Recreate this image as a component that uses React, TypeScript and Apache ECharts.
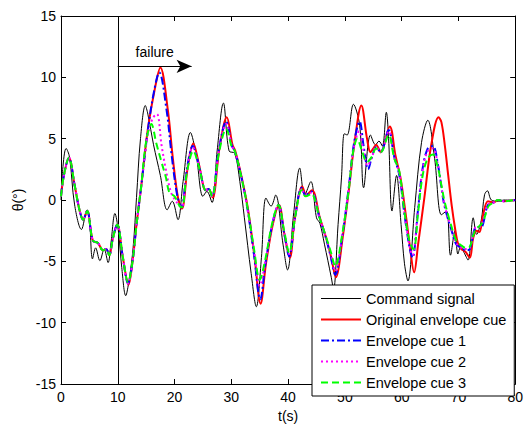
import React, { useEffect, useRef } from "react";
import * as echarts from "echarts";

const xTicks = { min: 0, max: 80, interval: 10 };
const yTicks = { min: -15, max: 15, interval: 5 };
const seriesNames = ["Command signal", "Original envelope cue", "Envelope cue 1", "Envelope cue 2", "Envelope cue 3"];
const failureTime = 10;
const failureArrowEnd = 23;
const failureArrowLevel = 10.9;

const commandSignal = [
  [0, 0], [0.3, 2.5], [0.9, 4.2], [1.5, 3.5], [2.4, -0.4], [3.6, -2.4], [4.6, -0.8], [5.0, -1.5], [5.55, -4.8],
  [6.1, -3.9], [6.85, -4.95], [7.6, -4.0], [8.3, -5.1], [8.8, -3.5], [9.5, -1.1], [10.1, -2.5], [10.7, -5.5],
  [11.4, -7.8], [12.0, -6.5], [12.7, -3.9], [13.3, 0.2], [14.0, 5.0], [14.85, 7.7], [15.3, 7.0], [16.3, 4.5],
  [17.5, 2.0], [18.7, -0.8], [19.6, -0.1], [20.6, -1.6], [21.5, 1.5], [22.8, 5.5], [23.8, 3.7], [25.0, 0.3],
  [25.7, 0.7], [26.6, -0.2], [27.5, 4.0], [28.6, 7.9], [29.6, 4.0], [30.6, 3.8], [31.5, 1.5], [32.3, -1.45],
  [33.5, -6.0], [34.4, -8.7], [35.3, -4.7], [36.1, 0.16], [37.0, -0.5], [37.8, 0.4], [39.1, -3.6], [39.9, -5.7],
  [41.0, -1.0], [42.05, 2.6], [42.9, 0.4], [44.0, 1.5], [45.0, -1.45], [45.6, -1.9], [46.4, -3.6], [47.6, -6.3],
  [48.0, -7.3], [48.8, -2.0], [49.4, 1.8], [49.9, 5.4], [50.4, 5.3], [51.5, 7.8], [52.6, 6.1], [53.3, 1.0],
  [54.5, 5.3], [55.4, 4.5], [56.0, 4.8], [56.6, 4.4], [57.3, 7.15], [57.7, 5.0], [58.3, -0.9], [59.1, 2.0],
  [59.9, -2.0], [60.5, -5.2], [61.1, -6.6], [62.3, -0.6], [63.5, 4.7], [64.6, 6.5], [65.8, 3.4], [67.0, -1.2],
  [67.9, -0.9], [68.6, -4.5], [69.4, -2.5], [69.9, -4.4], [70.4, -3.8], [71.0, -4.3], [71.7, -4.9], [72.6, -1.45],
  [73.2, -2.8], [74.0, -1.7], [74.6, 0.43], [75.1, 0.75], [75.8, 0.0], [77, -0.1], [78, 0], [80, -0.05],
];

const originalCue = [
  [0, 0.3], [0.5, 2.0], [1.4, 3.45], [2.4, 1.2], [3.3, -0.9], [3.9, -1.6], [4.6, -0.9], [5.6, -3.3], [6.5, -3.5],
  [7.4, -4.1], [7.95, -4.0], [8.5, -4.5], [9.1, -3.2], [9.9, -2.0], [10.9, -4.7], [11.9, -6.9], [12.6, -5.0],
  [13.3, -2.0], [14.1, 1.0], [15.3, 5.8], [16.5, 9.0], [17.5, 10.8], [18.8, 7.4], [19.7, 3.4], [20.6, 0.2],
  [21.3, -0.7], [22.3, 2.6], [23.3, 4.6], [24.3, 2.9], [25.5, 0.8], [26.0, 0.9], [26.7, 0.2], [27.9, 4.2],
  [29.2, 6.75], [30.2, 4.5], [30.7, 4.0], [31.75, 2.0], [32.9, -0.65], [34.1, -4.7], [35.15, -8.45], [36.1, -5.2],
  [37.3, -2.0], [38.4, -0.4], [39.35, -2.8], [40.3, -4.7], [41.2, -1.45], [42.5, 1.1], [43.2, 0.4], [44.2, 0.8],
  [45.6, -1.45], [46.7, -3.1], [47.6, -4.7], [48.4, -6.3], [49.6, -3.1], [50.8, 1.2], [51.7, 4.7], [52.9, 7.7],
  [53.9, 5.0], [54.5, 3.9], [55.0, 4.2], [55.5, 4.5], [56.3, 3.9], [57.9, 6.0], [58.9, 3.65], [59.8, 1.8],
  [60.8, -1.45], [61.4, -3.6], [62.2, -5.9], [62.9, -3.6], [64.0, 0.2], [65.2, 4.46], [66.5, 6.75], [67.0, 6.35],
  [67.6, 4.46], [68.2, 2.0], [68.8, -0.4], [69.4, -2.3], [69.95, -3.6], [70.5, -4.0], [71.2, -4.2], [72.0, -4.7],
  [72.6, -3.1], [73.2, -2.5], [73.7, -2.6], [74.3, -1.3], [75.2, -0.1], [76.2, -0.2], [77, 0], [78, -0.1], [80, 0],
];

const envelopeCue1 = [
  [0, 0.3], [0.5, 2.0], [1.4, 3.45], [2.4, 1.2], [3.3, -0.9], [3.9, -1.6], [4.6, -0.9], [5.6, -3.3], [6.5, -3.5],
  [7.4, -4.1], [7.95, -4.0], [8.5, -4.5], [9.1, -3.2], [9.9, -2.0], [10.9, -4.7], [11.8, -6.8], [12.6, -5.0],
  [13.3, -2.0], [14.1, 1.0], [15.3, 5.7], [16.4, 8.9], [17.3, 10.4], [18.6, 7.3], [19.5, 3.6], [20.5, 0.3],
  [21.2, -0.6], [22.2, 2.6], [23.2, 4.4], [24.3, 2.8], [25.5, 0.8], [26.0, 0.9], [26.6, 0.3], [27.8, 4.1],
  [29.1, 6.4], [30.1, 4.4], [30.6, 4.0], [31.7, 2.0], [32.8, -0.6], [34.0, -4.5], [35.1, -8.1], [36.0, -5.2],
  [37.2, -2.0], [38.3, -0.4], [39.3, -2.7], [40.2, -4.6], [41.2, -1.5], [42.4, 1.0], [43.1, 0.4], [44.1, 0.7],
  [45.5, -1.4], [46.6, -3.0], [47.5, -4.6], [48.3, -6.1], [49.5, -3.1], [50.7, 1.1], [51.6, 4.6], [52.6, 6.4],
  [53.3, 4.4], [54.1, 2.5], [54.7, 3.4], [55.5, 4.3], [56.3, 3.9], [57.7, 5.7], [58.7, 3.5], [59.6, 2.0],
  [60.5, -1.2], [61.4, -3.9], [61.9, -4.7], [62.9, -0.7], [63.7, 2.6], [64.6, 4.2], [65.5, 4.4], [66.4, 2.85],
  [67.1, 0.7], [67.6, -0.6], [68.8, -2.5], [69.6, -3.6], [70.5, -3.9], [71.3, -4.1], [72.0, -4.0], [72.9, -2.3],
  [73.5, -2.2], [74.0, -2.2], [75.2, -0.4], [76.2, -0.2], [77, 0], [78, -0.1], [80, 0],
];

const envelopeCue2 = [
  [0, 0.3], [0.5, 2.0], [1.4, 3.45], [2.4, 1.2], [3.3, -0.9], [3.9, -1.6], [4.6, -0.9], [5.6, -3.3], [6.5, -3.5],
  [7.4, -4.1], [7.95, -4.0], [8.5, -4.5], [9.1, -3.2], [9.9, -2.0], [10.9, -4.7], [11.8, -6.8], [12.6, -5.0],
  [13.3, -2.0], [14.1, 1.0], [15.3, 5.4], [16.2, 6.7], [16.9, 7.0], [17.7, 4.5], [18.5, 2.4], [19.4, 0.6],
  [20.4, -0.2], [21.2, -0.6], [22.2, 2.5], [23.2, 4.3], [24.3, 2.8], [25.5, 0.8], [26.0, 0.9], [26.6, 0.3],
  [27.8, 4.0], [29.1, 6.2], [30.1, 4.4], [30.6, 4.0], [31.7, 2.0], [32.8, -0.6], [34.0, -4.2], [35.0, -7.0],
  [36.0, -5.0], [37.2, -2.0], [38.3, -0.4], [39.3, -2.6], [40.2, -4.4], [41.2, -1.5], [42.4, 0.9], [43.1, 0.4],
  [44.1, 0.6], [45.5, -1.4], [46.6, -3.0], [47.5, -4.4], [48.3, -5.8], [49.5, -3.0], [50.7, 1.0], [51.6, 4.3],
  [52.5, 5.6], [53.3, 4.0], [54.0, 2.8], [54.7, 3.4], [55.5, 4.3], [56.3, 3.9], [57.7, 5.6], [58.7, 3.5],
  [59.6, 2.1], [60.5, -1.1], [61.4, -3.8], [61.9, -4.5], [62.9, -0.7], [63.7, 2.5], [64.6, 4.0], [65.5, 4.2],
  [66.4, 2.8], [67.1, 0.8], [67.6, -0.5], [68.8, -2.4], [69.6, -3.5], [70.5, -3.9], [71.3, -4.0], [72.0, -3.9],
  [72.9, -2.3], [73.5, -2.2], [74.0, -2.1], [75.2, -0.4], [76.2, -0.2], [77, 0], [78, -0.1], [80, 0],
];

const envelopeCue3 = [
  [0, 0.3], [0.5, 2.0], [1.4, 3.45], [2.4, 1.2], [3.3, -0.9], [3.9, -1.6], [4.6, -0.9], [5.6, -3.3], [6.5, -3.5],
  [7.4, -4.1], [7.95, -4.0], [8.5, -4.5], [9.1, -3.2], [9.9, -2.0], [10.9, -4.7], [11.8, -6.7], [12.6, -5.0],
  [13.3, -2.0], [14.1, 1.0], [15.0, 4.8], [15.9, 6.2], [16.8, 4.6], [17.7, 3.1], [18.5, 1.8], [19.1, 0.6],
  [20.0, 0.3], [20.9, -0.5], [21.3, -0.6], [22.2, 2.3], [23.3, 4.0], [24.3, 2.7], [25.5, 0.8], [26.0, 0.9],
  [26.6, 0.3], [27.8, 3.8], [29.1, 5.8], [30.1, 4.3], [30.6, 4.0], [31.7, 2.0], [32.8, -0.5], [34.0, -4.0],
  [35.0, -6.5], [36.0, -4.8], [37.2, -1.9], [38.3, -0.4], [39.3, -2.5], [40.2, -4.3], [41.2, -1.5], [42.4, 0.8],
  [43.1, 0.3], [44.1, 0.5], [45.5, -1.4], [46.6, -2.9], [47.5, -4.2], [48.3, -5.4], [49.5, -2.9], [50.7, 0.9],
  [51.4, 3.8], [52.2, 5.0], [53.0, 4.0], [53.9, 3.1], [54.7, 3.5], [55.5, 4.2], [56.3, 3.9], [57.7, 5.3],
  [58.7, 3.4], [59.6, 2.3], [60.5, -1.0], [61.4, -3.4], [62.1, -4.0], [62.9, -1.0], [63.7, 2.0], [64.6, 3.4],
  [65.5, 3.7], [66.4, 2.6], [67.0, 1.2], [67.6, -0.2], [68.8, -2.2], [69.6, -3.3], [70.5, -3.7], [71.3, -3.9],
  [72.0, -3.8], [72.9, -2.5], [73.5, -2.2], [74.3, -1.8], [75.3, -0.5], [76.2, -0.2], [77, 0], [78, -0.1], [80, 0],
];

const FONT = "'Liberation Sans', Arial, sans-serif";

export default function App() {
  const ref = useRef<HTMLDivElement>(null);
  useEffect(() => {
    if (!ref.current) return;
    const chart = echarts.init(ref.current, null, { renderer: "svg" });
    const axisCommon = {
      axisLine: { show: true, onZero: false, lineStyle: { color: "#000", width: 1 } },
      axisTick: { show: true, inside: true, length: 5, lineStyle: { color: "#000" } },
      splitLine: { show: false },
    };
    const lineSeries = (name: string, data: number[][], color: string, width: number, type: any, z: number) => ({
      name,
      type: "line",
      data,
      smooth: 0.35,
      showSymbol: false,
      symbol: "none",
      lineStyle: { color, width, type },
      itemStyle: { color },
      z,
    });
    const command: any = lineSeries(seriesNames[0], commandSignal, "#000000", 1, "solid", 2);
    command.markLine = {
      silent: true,
      animation: false,
      lineStyle: { color: "#000", width: 1, type: "solid" },
      label: { show: false },
      data: [
        [
          { coord: [failureTime, yTicks.min], symbol: "none" },
          { coord: [failureTime, yTicks.max], symbol: "none" },
        ],
        [
          {
            coord: [failureTime, failureArrowLevel],
            symbol: "none",
            label: {
              show: true,
              position: "middle",
              formatter: "failure",
              color: "#000",
              fontFamily: FONT,
              fontSize: 14,
              distance: 7,
            },
          },
          { coord: [failureArrowEnd, failureArrowLevel], symbol: "arrow", symbolSize: [10, 15] },
        ],
      ],
    };
    chart.setOption({
      animation: false,
      textStyle: { fontFamily: FONT },
      grid: { left: 61, right: 8, top: 16, bottom: 40, containLabel: false },
      legend: {
        orient: "vertical",
        left: 312,
        top: 285,
        padding: [6, 8, 6, 8],
        itemGap: 6,
        itemWidth: 40,
        itemHeight: 14,
        backgroundColor: "#fff",
        borderColor: "#000",
        borderWidth: 1,
        borderRadius: 0,
        itemStyle: { opacity: 0 },
        textStyle: { color: "#000", fontSize: 14.5, fontFamily: FONT },
        data: [
          { name: seriesNames[0], lineStyle: { width: 1 } },
          { name: seriesNames[1], lineStyle: { width: 2 } },
          { name: seriesNames[2], lineStyle: { width: 2 } },
          { name: seriesNames[3], lineStyle: { width: 2 } },
          { name: seriesNames[4], lineStyle: { width: 2 } },
        ],
      },
      xAxis: [
        {
          type: "value",
          ...xTicks,
          position: "bottom",
          name: "t(s)",
          nameLocation: "middle",
          nameGap: 25,
          nameTextStyle: { color: "#000", fontSize: 14, fontFamily: FONT },
          axisLabel: { color: "#000", fontSize: 14, margin: 6, fontFamily: FONT },
          ...axisCommon,
        },
        {
          type: "value",
          ...xTicks,
          position: "top",
          axisLabel: { show: false },
          ...axisCommon,
        },
      ],
      yAxis: [
        {
          type: "value",
          ...yTicks,
          position: "left",
          name: "θ(°)",
          nameLocation: "middle",
          nameGap: 33,
          nameRotate: 90,
          nameTextStyle: { color: "#000", fontSize: 14, fontFamily: FONT },
          axisLabel: { color: "#000", fontSize: 14, margin: 5, fontFamily: FONT },
          ...axisCommon,
        },
        {
          type: "value",
          ...yTicks,
          position: "right",
          axisLabel: { show: false },
          ...axisCommon,
        },
      ],
      series: [
        command,
        lineSeries(seriesNames[1], originalCue, "#ff0000", 2, "solid", 3),
        lineSeries(seriesNames[2], envelopeCue1, "#0000ff", 2, [8, 3, 2, 3], 4),
        lineSeries(seriesNames[3], envelopeCue2, "#ff00ff", 2, [2, 3], 5),
        lineSeries(seriesNames[4], envelopeCue3, "#00ff00", 2, [7, 4], 6),
      ],
    });
    return () => chart.dispose();
  }, []);
  return (
    <div
      ref={ref}
      style={{ position: "fixed", left: 0, top: 0, width: 526, height: 428, background: "#fff" }}
    />
  );
}
